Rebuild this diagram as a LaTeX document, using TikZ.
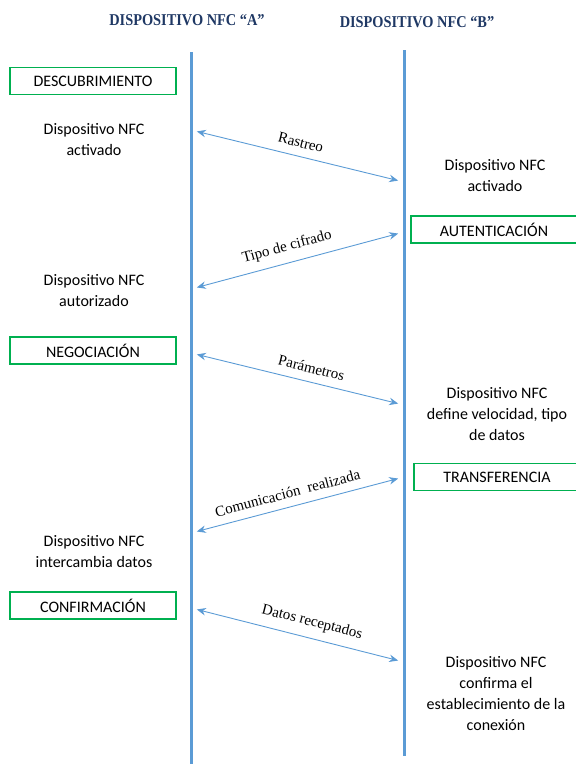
\documentclass[tikz,border=0pt]{standalone}
\usepackage{fontspec}
\setmainfont{Carlito}
\newfontfamily\labelfont{Liberation Serif}
\newfontfamily\titlefont[FakeStretch=0.87]{Liberation Serif}
\usetikzlibrary{arrows.meta}
\definecolor{lifeblue}{HTML}{5B9BD5}
\definecolor{phasegreen}{HTML}{00B050}
\definecolor{titlenavy}{HTML}{1F3864}
\tikzset{
  lifeline/.style={lifeblue,line width=3pt},
  msg/.style={lifeblue,line width=0.9pt,{Stealth[length=9pt,width=7.5pt]}-{Stealth[length=9pt,width=7.5pt]},shorten <=6pt,shorten >=6pt},
  msglabel/.style={font=\labelfont\fontsize{15}{18}\selectfont,text=black,sloped,above=5pt},
  phase/.style={draw=phasegreen,line width=1.8pt,minimum width=166pt,minimum height=27pt,inner sep=0pt,font=\fontsize{16}{19}\selectfont},
  info/.style={align=center,font=\fontsize{16}{21}\selectfont},
  devtitle/.style={font=\titlefont\bfseries\fontsize{16.5}{19}\selectfont,text=titlenavy}
}

\begin{document}
\begin{tikzpicture}[x=1pt,y=-1pt]
      \clip (0,0) rectangle (576,764);
      \node[devtitle] (titA) at (187,20) {DISPOSITIVO NFC “A”};
      \node[devtitle] (titB) at (417,22) {DISPOSITIVO NFC “B”};
      \coordinate (Atop) at (191,52);
      \coordinate (Abot) at (191,764);
      \coordinate (Btop) at (404,50);
      \coordinate (Bbot) at (404,756);
      \draw[lifeline] (Atop) -- (Abot);
      \draw[lifeline] (Btop) -- (Bbot);
      \node[phase] (desc) at (93,81) {DESCUBRIMIENTO};
      \node[phase] (aut) at (494,229.5) {AUTENTICACIÓN};
      \node[phase] (neg) at (93,350.5) {NEGOCIACIÓN};
      \node[phase] (trans) at (497,477) {TRANSFERENCIA};
      \node[phase] (conf) at (93,605.5) {CONFIRMACIÓN};
      \node[info] (actA) at (94,140) {Dispositivo NFC\\activado};
      \node[info] (actB) at (495,176) {Dispositivo NFC\\activado};
      \node[info] (autA) at (94,291) {Dispositivo NFC\\autorizado};
      \node[info] (velB) at (497,414) {Dispositivo NFC\\define velocidad, tipo\\de datos};
      \node[info] (datA) at (94,552) {Dispositivo NFC\\intercambia datos};
      \node[info] (conB) at (496,694) {Dispositivo NFC\\confirma el\\establecimiento de la\\conexión};
      \coordinate (a1) at (191,130);
      \coordinate (b1) at (404,182);
      \coordinate (a2) at (191,289);
      \coordinate (b2) at (404,232);
      \coordinate (a3) at (191,353);
      \coordinate (b3) at (404,405);
      \coordinate (a4) at (191,533);
      \coordinate (b4) at (404,477);
      \coordinate (a5) at (191,608);
      \coordinate (b5) at (404,662);
      \draw[msg] (a1) -- (b1) node[msglabel,pos=0.5] {Rastreo};
      \draw[msg] (a2) -- (b2) node[msglabel,pos=0.47] {Tipo de cifrado};
      \draw[msg] (a3) -- (b3) node[msglabel,pos=0.55] {Parámetros};
      \draw[msg] (a4) -- (b4) node[msglabel,pos=0.47] {Comunicación\ \ realizada};
      \draw[msg] (a5) -- (b5) node[msglabel,pos=0.55] {Datos receptados};
\end{tikzpicture}
\end{document}
